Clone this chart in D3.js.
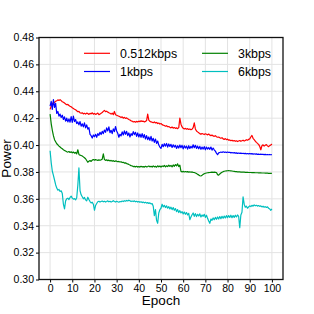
<!DOCTYPE html>
<html><head><meta charset="utf-8">
<script src="https://cdn.jsdelivr.net/npm/d3@7"></script>
<style>html,body{margin:0;padding:0;background:#fff;}svg{display:block;font-family:"Liberation Sans",Arial,sans-serif;}</style>
</head><body>
<svg id="c" width="314" height="314"></svg>
<script>
const seriesNames = ["0.512kbps","1kbps","3kbps","6kbps"];
const seriesColors = ["#ff0000","#0000ff","#008000","#00bfbf"];
const xTicks = [0,10,20,30,40,50,60,70,80,90,100];
const yTicks = [0.30,0.32,0.34,0.36,0.38,0.40,0.42,0.44,0.46,0.48];
// values every half epoch, epoch 0 .. 100
const red = [
.4265,.4290,.4312,.4305,.4318,.4325,.4330,.4336,.4332,.4338,
.4330,.4322,.4318,.4312,.4306,.4300,.4302,.4294,.4288,.4285,
.4278,.4272,.4266,.4262,.4255,.4248,.4250,.4240,.4236,.4240,
.4232,.4236,.4230,.4238,.4234,.4228,.4236,.4232,.4240,.4230,
.4235,.4228,.4232,.4238,.4226,.4230,.4236,.4242,.4250,.4258,
.4248,.4252,.4245,.4240,.4236,.4230,.4238,.4226,.4250,.4225,
.4222,.4218,.4215,.4210,.4205,.4210,.4200,.4206,.4198,.4202,
.4195,.4190,.4186,.4180,.4178,.4172,.4175,.4170,.4176,.4172,
.4178,.4174,.4180,.4176,.4178,.4172,.4176,.4182,.4230,.4185,
.4176,.4172,.4170,.4166,.4172,.4164,.4168,.4160,.4164,.4156,
.4160,.4152,.4148,.4145,.4140,.4144,.4136,.4138,.4132,.4128,
.4134,.4126,.4130,.4124,.4128,.4122,.4130,.4200,.4155,.4135,
.4125,.4120,.4124,.4118,.4122,.4116,.4120,.4114,.4118,.4130,
.4165,.4120,.4105,.4098,.4092,.4085,.4080,.4086,.4082,.4078,
.4084,.4080,.4076,.4082,.4074,.4070,.4074,.4068,.4065,.4070,
.4062,.4058,.4060,.4054,.4050,.4055,.4046,.4042,.4048,.4040,
.4044,.4036,.4038,.4032,.4036,.4030,.4034,.4028,.4032,.4026,
.4030,.4034,.4028,.4032,.4036,.4030,.4034,.4040,.4036,.4042,
.4046,.4060,.4072,.4050,.4040,.4030,.4020,.4012,.4005,.3990,
.3965,.3995,.4002,.3992,.3998,.4004,.3994,.3988,.3996,.4000,
.4008];
const blue = [
.4290,.4325,.4265,.4338,.4280,.4310,.4235,.4250,.4215,.4230,
.4205,.4222,.4190,.4210,.4178,.4200,.4172,.4195,.4170,.4212,
.4168,.4215,.4175,.4190,.4160,.4172,.4150,.4175,.4140,.4158,
.4135,.4165,.4128,.4150,.4118,.4130,.4080,.4070,.4052,.4075,
.4062,.4080,.4058,.4085,.4072,.4095,.4078,.4102,.4085,.4112,
.4095,.4128,.4105,.4135,.4092,.4110,.4085,.4120,.4100,.4138,
.4105,.4088,.4058,.4080,.4068,.4098,.4075,.4105,.4080,.4102,
.4070,.4090,.4060,.4085,.4072,.4100,.4078,.4095,.4065,.4090,
.4060,.4082,.4058,.4085,.4055,.4078,.4045,.4070,.4040,.4060,
.4035,.4065,.4030,.4050,.4020,.4045,.4012,.4030,.4000,.3985,
.3975,.4005,.3988,.4010,.3992,.4012,.3985,.4008,.3990,.4005,
.3982,.4002,.3985,.3998,.3975,.3995,.3978,.4000,.3980,.3998,
.3972,.3995,.3978,.3992,.3970,.3995,.3975,.3990,.3978,.4002,
.3980,.3998,.3975,.3992,.3972,.3990,.3968,.3985,.3970,.3988,
.3965,.3985,.3970,.3982,.3968,.3985,.3962,.3978,.3965,.3955,
.3940,.3928,.3942,.3945,.3948,.3945,.3950,.3946,.3948,.3944,
.3948,.3945,.3946,.3942,.3945,.3941,.3944,.3940,.3942,.3938,
.3941,.3938,.3940,.3937,.3939,.3936,.3938,.3935,.3937,.3934,
.3937,.3934,.3936,.3933,.3935,.3932,.3934,.3931,.3933,.3930,
.3932,.3930,.3931,.3929,.3931,.3928,.3930,.3928,.3930,.3928,
.3929];
const green = [
.4230,.4160,.4110,.4070,.4040,.4025,.4010,.4002,.3992,.3985,
.3978,.3972,.3965,.3960,.3955,.3950,.3948,.3952,.3945,.3950,
.3942,.3948,.3940,.3945,.3935,.3965,.3930,.3925,.3922,.3918,
.3912,.3905,.3898,.3885,.3872,.3880,.3885,.3878,.3888,.3892,
.3888,.3892,.3889,.3886,.3890,.3887,.3890,.3895,.3935,.3892,
.3886,.3890,.3884,.3888,.3882,.3886,.3880,.3884,.3878,.3882,
.3880,.3876,.3878,.3874,.3876,.3870,.3872,.3866,.3868,.3862,
.3860,.3855,.3852,.3846,.3845,.3840,.3842,.3838,.3842,.3836,
.3840,.3836,.3842,.3838,.3840,.3836,.3842,.3838,.3840,.3844,
.3838,.3842,.3836,.3845,.3838,.3842,.3835,.3846,.3838,.3844,
.3836,.3845,.3840,.3848,.3838,.3846,.3840,.3850,.3842,.3848,
.3838,.3852,.3842,.3855,.3845,.3860,.3840,.3850,.3805,.3800,
.3804,.3800,.3803,.3800,.3802,.3799,.3801,.3798,.3800,.3797,
.3796,.3792,.3788,.3782,.3778,.3772,.3770,.3775,.3782,.3786,
.3790,.3792,.3794,.3795,.3796,.3797,.3798,.3797,.3798,.3797,
.3796,.3780,.3776,.3785,.3792,.3798,.3802,.3805,.3807,.3808,
.3809,.3810,.3809,.3808,.3807,.3805,.3804,.3803,.3802,.3801,
.3800,.3800,.3799,.3799,.3798,.3798,.3797,.3797,.3797,.3796,
.3796,.3796,.3795,.3795,.3795,.3794,.3794,.3794,.3793,.3793,
.3793,.3792,.3792,.3792,.3791,.3791,.3791,.3790,.3790,.3790,
.3789];
const cyan = [
.3958,.3870,.3805,.3775,.3740,.3705,.3680,.3665,.3670,.3655,
.3660,.3640,.3560,.3525,.3585,.3600,.3605,.3595,.3610,.3620,
.3605,.3598,.3602,.3592,.3608,.3700,.3830,.3660,.3630,.3615,
.3600,.3610,.3592,.3585,.3612,.3595,.3580,.3570,.3575,.3560,
.3515,.3550,.3565,.3578,.3582,.3576,.3580,.3584,.3578,.3582,
.3576,.3580,.3585,.3578,.3582,.3576,.3580,.3586,.3580,.3576,
.3582,.3578,.3575,.3580,.3578,.3584,.3580,.3586,.3582,.3588,
.3584,.3590,.3586,.3580,.3584,.3580,.3585,.3578,.3582,.3576,
.3580,.3574,.3578,.3572,.3576,.3570,.3574,.3568,.3572,.3566,
.3570,.3562,.3565,.3545,.3475,.3520,.3440,.3418,.3495,.3520,
.3530,.3560,.3540,.3552,.3535,.3548,.3530,.3542,.3525,.3538,
.3520,.3535,.3515,.3528,.3505,.3520,.3498,.3512,.3495,.3505,
.3488,.3502,.3485,.3498,.3480,.3492,.3445,.3465,.3482,.3495,
.3470,.3490,.3468,.3485,.3472,.3488,.3465,.3480,.3470,.3485,
.3462,.3478,.3455,.3435,.3418,.3450,.3440,.3458,.3445,.3462,
.3448,.3465,.3450,.3468,.3452,.3470,.3455,.3472,.3458,.3475,
.3460,.3476,.3462,.3478,.3460,.3475,.3462,.3478,.3465,.3480,
.3470,.3385,.3480,.3500,.3615,.3560,.3538,.3545,.3530,.3540,
.3548,.3542,.3552,.3545,.3555,.3548,.3552,.3546,.3550,.3544,
.3548,.3540,.3545,.3538,.3542,.3536,.3540,.3530,.3525,.3515,
.3525];
const seriesValues = [red, blue, green, cyan];

const svg = d3.select("#c");
const L = 39, R = 283, T = 37.5, B = 279.5;
const x = d3.scaleLinear().domain([-5, 105]).range([L, R]);
const y = d3.scaleLinear().domain([0.30, 0.48]).range([B, T]);

// grid
const g = svg.append("g");
g.selectAll("line.vx").data(xTicks).join("line")
  .attr("x1", d => x(d)).attr("x2", d => x(d)).attr("y1", T).attr("y2", B)
  .attr("stroke", "#e3e3e3").attr("stroke-width", 1);
g.selectAll("line.hy").data(yTicks).join("line")
  .attr("y1", d => y(d)).attr("y2", d => y(d)).attr("x1", L).attr("x2", R)
  .attr("stroke", "#e3e3e3").attr("stroke-width", 1);

// lines
const line = d3.line().x((d, i) => x(i * 0.5)).y(d => y(d));
seriesValues.forEach((vals, k) => {
  svg.append("path").datum(vals).attr("d", line)
    .attr("fill", "none").attr("stroke", seriesColors[k]).attr("stroke-width", 1.2)
    .attr("stroke-linejoin", "round");
});

// axes
const xa = svg.append("g").attr("transform", `translate(0,${B})`)
  .call(d3.axisBottom(x).tickValues(xTicks).tickSize(3).tickPadding(2).tickFormat(d3.format("d")));
const ya = svg.append("g").attr("transform", `translate(${L},0)`)
  .call(d3.axisLeft(y).tickValues(yTicks).tickSize(3).tickPadding(2).tickFormat(d3.format(".2f")));
[xa, ya].forEach(a => {
  a.select(".domain").remove();
  a.selectAll("text").attr("font-size", 10.5).attr("fill", "#000")
    .attr("font-family", "'Liberation Sans', Arial, sans-serif");
  a.selectAll("line").attr("stroke", "#000");
});
svg.append("rect").attr("x", L).attr("y", T).attr("width", R - L).attr("height", B - T)
  .attr("fill", "none").attr("stroke", "#111").attr("stroke-width", 1.3);

// labels
svg.append("text").attr("x", (x(0) + x(100)) / 2).attr("y", 305).attr("text-anchor", "middle")
  .attr("font-size", 13.5).text("Epoch");
svg.append("text").attr("transform", `translate(11,${(T + B) / 2}) rotate(-90)`)
  .attr("text-anchor", "middle").attr("font-size", 13.5).text("Power");

// legend
const legPos = [[84, 53.3], [84, 71.5], [202, 53.3], [202, 71.5]];
seriesNames.forEach((n, k) => {
  const [lx, ly] = legPos[k];
  svg.append("line").attr("x1", lx).attr("x2", lx + 26).attr("y1", ly).attr("y2", ly)
    .attr("stroke", seriesColors[k]).attr("stroke-width", 1.2);
  svg.append("text").attr("x", lx + 36).attr("y", ly + 4.4).attr("font-size", 12.4)
    .text(n);
});
</script>
</body></html>
